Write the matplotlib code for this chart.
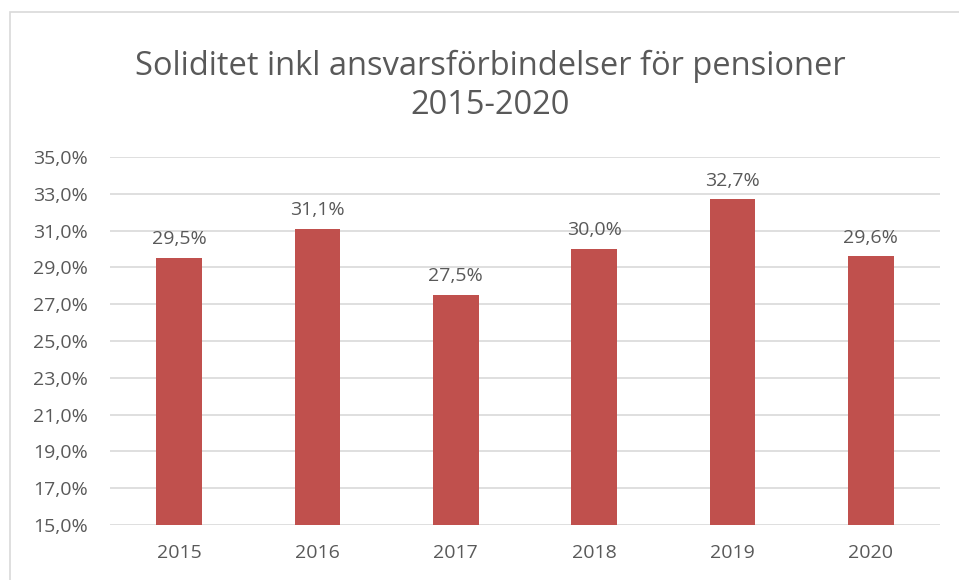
import matplotlib.pyplot as plt
from matplotlib.patches import Rectangle

years = ["2015", "2016", "2017", "2018", "2019", "2020"]
values = [29.5, 31.1, 27.5, 30.0, 32.7, 29.6]
ticks = [15, 17, 19, 21, 23, 25, 27, 29, 31, 33, 35]

grey = "#595959"
bar_color = "#C0504D"

plt.rcParams['font.family'] = ['Open Sans', 'DejaVu Sans']

fig = plt.figure(figsize=(9.59, 5.8), dpi=100)
ax = fig.add_axes([0.1147, 0.0948, 0.8655, 0.6345])

x = range(len(years))
ax.bar(x, [v - 15 for v in values], bottom=15, width=0.33, color=bar_color, zorder=3)

for i, v in enumerate(values):
    ax.annotate("{:.1f}%".format(v).replace(".", ","), (i, v), xytext=(0, 7),
                textcoords="offset points", ha="center", va="bottom",
                fontsize=14, color=grey)

ax.set_ylim(15, 35)
ax.set_xlim(-0.5, len(years) - 0.5)
ax.set_yticks(ticks)
ax.set_yticklabels(["{:.1f}%".format(t).replace(".", ",") for t in ticks])
ax.set_xticks(list(x))
ax.set_xticklabels(years)
ax.tick_params(axis="both", length=0, labelsize=14, colors=grey)
ax.tick_params(axis="x", pad=14)
ax.tick_params(axis="y", pad=16)
ax.grid(axis="y", color="#D9D9D9", linewidth=1.2, zorder=0)
for s in ax.spines.values():
    s.set_visible(False)

fig.text(0.511, 0.852, "Soliditet inkl ansvarsförbindelser för pensioner\n2015-2020",
         ha="center", va="center", fontsize=23.5, color=grey, linespacing=1.25)

# chart border
fig.patches.append(Rectangle((10 / 959, -0.05), 1.0, 1 - 12 / 580 + 0.05, transform=fig.transFigure,
                             fill=False, edgecolor="#D9D9D9", linewidth=1.2))

fig.savefig("out.png", dpi=100)
